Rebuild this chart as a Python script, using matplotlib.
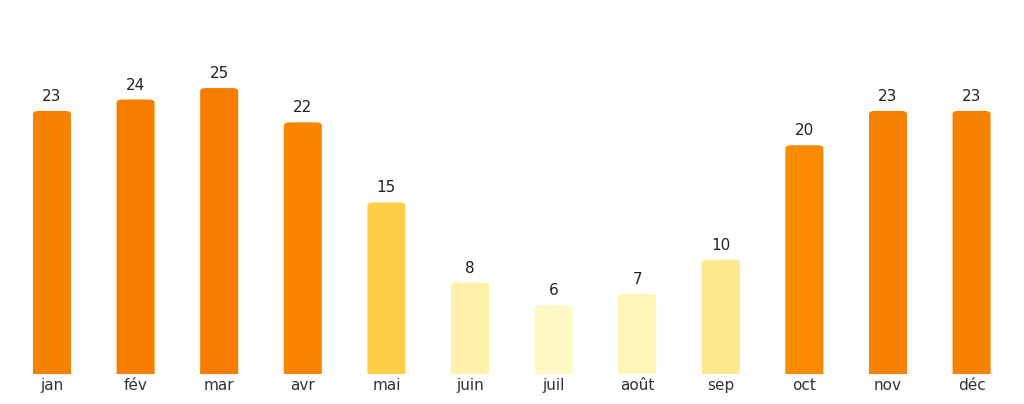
import matplotlib.pyplot as plt
from matplotlib.colors import LinearSegmentedColormap, Normalize
from matplotlib.patches import FancyBboxPatch

months = ['jan', 'fév', 'mar', 'avr', 'mai', 'juin', 'juil', 'août', 'sep', 'oct', 'nov', 'déc']
values = [23, 24, 25, 22, 15, 8, 6, 7, 10, 20, 23, 23]

cmap = LinearSegmentedColormap.from_list('warm', [(0.0, '#FFF9C4'), (0.45, '#FFD54F'), (0.7, '#FB8C00'), (1.0, '#F57C00')])
norm = Normalize(vmin=min(values), vmax=max(values))

fig = plt.figure(figsize=(10.24, 4.04), dpi=100)
ax = fig.add_axes([0, 30 / 404, 1, 374 / 404])

bars = ax.bar(range(len(months)), values, width=0.455, color=[cmap(norm(v)) for v in values])

# swap plain rectangles for ones with softly rounded tops
for rect, v in zip(bars, values):
    rect.set_visible(False)
    x, w = rect.get_x(), rect.get_width()
    patch = FancyBboxPatch((x, -2), w, v + 2,
                           boxstyle='round,pad=0,rounding_size=0.07',
                           mutation_aspect=4.0,
                           facecolor=rect.get_facecolor(), edgecolor='none')
    ax.add_patch(patch)
    ax.annotate(str(v), (rect.get_x() + w / 2, v), xytext=(0, 5), textcoords='offset points',
                ha='center', va='bottom', fontsize=11, color='#222222')

ax.set_xlim(-0.622, 11.627)
ax.set_ylim(0, 32.7)
ax.set_xticks(range(len(months)))
ax.set_xticklabels(months, fontsize=11, color='#333333')
ax.tick_params(axis='x', length=0, pad=3)
ax.set_yticks([])
for s in ax.spines.values():
    s.set_visible(False)

fig.savefig('out.png', dpi=100)
